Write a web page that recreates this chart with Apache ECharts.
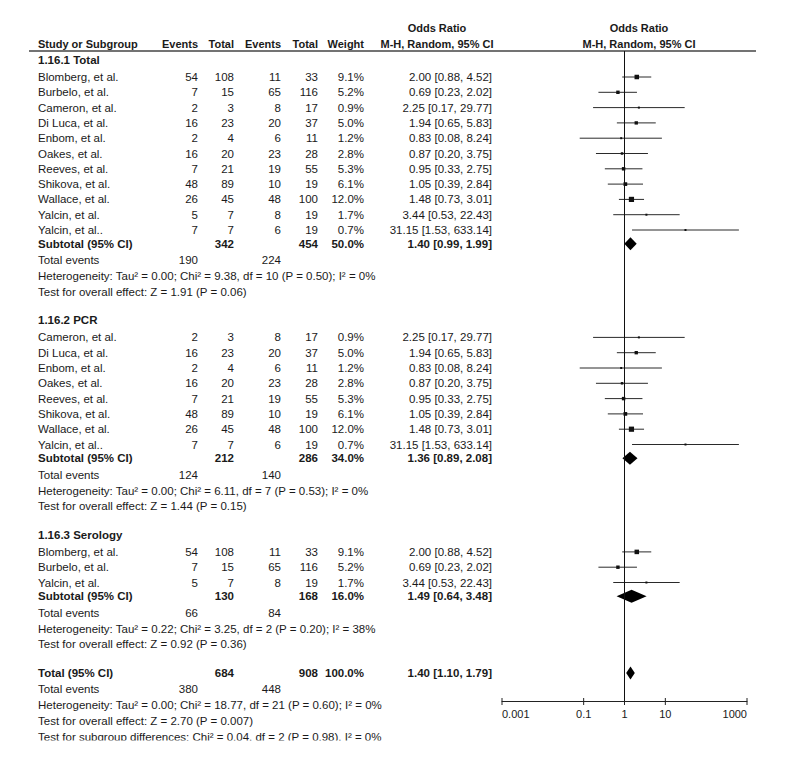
<!DOCTYPE html>
<html><head><meta charset="utf-8">
<script src="https://cdn.jsdelivr.net/npm/echarts@6/dist/echarts.min.js"></script>
<style>html,body{margin:0;padding:0;background:#fff}#chart{width:786px;height:760px}</style>
</head><body><div id="chart"></div>
<script>
const FONT = "'Liberation Sans', Arial, sans-serif";

const groupTitles = ['1.16.1 Total', '1.16.2 PCR', '1.16.3 Serology'];

// 1.16.1 Total
const g1Studies = ['Blomberg, et al.', 'Burbelo, et al.', 'Cameron, et al.', 'Di Luca, et al.', 'Enbom, et al.', 'Oakes, et al.', 'Reeves, et al.', 'Shikova, et al.', 'Wallace, et al.', 'Yalcin, et al.', 'Yalcin, et al..'];
const g1ExpEvents = [54, 7, 2, 16, 2, 16, 7, 48, 26, 5, 7];
const g1ExpTotal = [108, 15, 3, 23, 4, 20, 21, 89, 45, 7, 7];
const g1CtlEvents = [11, 65, 8, 20, 6, 23, 19, 10, 48, 8, 6];
const g1CtlTotal = [33, 116, 17, 37, 11, 28, 55, 19, 100, 19, 19];
const g1Weight = [9.1, 5.2, 0.9, 5.0, 1.2, 2.8, 5.3, 6.1, 12.0, 1.7, 0.7];
const g1OR = [2.00, 0.69, 2.25, 1.94, 0.83, 0.87, 0.95, 1.05, 1.48, 3.44, 31.15];
const g1Low = [0.88, 0.23, 0.17, 0.65, 0.08, 0.20, 0.33, 0.39, 0.73, 0.53, 1.53];
const g1High = [4.52, 2.02, 29.77, 5.83, 8.24, 3.75, 2.75, 2.84, 3.01, 22.43, 633.14];

// 1.16.2 PCR
const g2Studies = ['Cameron, et al.', 'Di Luca, et al.', 'Enbom, et al.', 'Oakes, et al.', 'Reeves, et al.', 'Shikova, et al.', 'Wallace, et al.', 'Yalcin, et al..'];
const g2ExpEvents = [2, 16, 2, 16, 7, 48, 26, 7];
const g2ExpTotal = [3, 23, 4, 20, 21, 89, 45, 7];
const g2CtlEvents = [8, 20, 6, 23, 19, 10, 48, 6];
const g2CtlTotal = [17, 37, 11, 28, 55, 19, 100, 19];
const g2Weight = [0.9, 5.0, 1.2, 2.8, 5.3, 6.1, 12.0, 0.7];
const g2OR = [2.25, 1.94, 0.83, 0.87, 0.95, 1.05, 1.48, 31.15];
const g2Low = [0.17, 0.65, 0.08, 0.20, 0.33, 0.39, 0.73, 1.53];
const g2High = [29.77, 5.83, 8.24, 3.75, 2.75, 2.84, 3.01, 633.14];

// 1.16.3 Serology
const g3Studies = ['Blomberg, et al.', 'Burbelo, et al.', 'Yalcin, et al.'];
const g3ExpEvents = [54, 7, 5];
const g3ExpTotal = [108, 15, 7];
const g3CtlEvents = [11, 65, 8];
const g3CtlTotal = [33, 116, 19];
const g3Weight = [9.1, 5.2, 1.7];
const g3OR = [2.00, 0.69, 3.44];
const g3Low = [0.88, 0.23, 0.53];
const g3High = [4.52, 2.02, 22.43];

// Subtotals per subgroup
const subExpTotal = [342, 212, 130];
const subCtlTotal = [454, 286, 168];
const subWeight = ['50.0%', '34.0%', '16.0%'];
const subOR = [1.40, 1.36, 1.49];
const subLow = [0.99, 0.89, 0.64];
const subHigh = [1.99, 2.08, 3.48];
const subExpEvents = [190, 124, 66];
const subCtlEvents = [224, 140, 84];
const subHeterogeneity = [
  'Heterogeneity: Tau² = 0.00; Chi² = 9.38, df = 10 (P = 0.50); I² = 0%',
  'Heterogeneity: Tau² = 0.00; Chi² = 6.11, df = 7 (P = 0.53); I² = 0%',
  'Heterogeneity: Tau² = 0.22; Chi² = 3.25, df = 2 (P = 0.20); I² = 38%'
];
const subEffect = [
  'Test for overall effect: Z = 1.91 (P = 0.06)',
  'Test for overall effect: Z = 1.44 (P = 0.15)',
  'Test for overall effect: Z = 0.92 (P = 0.36)'
];

// Overall
const totalExpTotal = 684;
const totalCtlTotal = 908;
const totalWeight = '100.0%';
const totalOR = 1.40;
const totalLow = 1.10;
const totalHigh = 1.79;
const totalExpEvents = 380;
const totalCtlEvents = 448;
const totalNotes = [
  'Heterogeneity: Tau² = 0.00; Chi² = 18.77, df = 21 (P = 0.60); I² = 0%',
  'Test for overall effect: Z = 2.70 (P = 0.007)',
  'Test for subgroup differences: Chi² = 0.04, df = 2 (P = 0.98), I² = 0%'
];

// Axis ticks
const tickValues = [0.001, 0.1, 1, 10, 1000];
const tickLabels = ['0.001', '0.1', '1', '10', '1000'];

// ---------- build rows ----------
const groups = [
  {studies: g1Studies, e1: g1ExpEvents, t1: g1ExpTotal, e2: g1CtlEvents, t2: g1CtlTotal, w: g1Weight, or: g1OR, lo: g1Low, hi: g1High},
  {studies: g2Studies, e1: g2ExpEvents, t1: g2ExpTotal, e2: g2CtlEvents, t2: g2CtlTotal, w: g2Weight, or: g2OR, lo: g2Low, hi: g2High},
  {studies: g3Studies, e1: g3ExpEvents, t1: g3ExpTotal, e2: g3CtlEvents, t2: g3CtlTotal, w: g3Weight, or: g3OR, lo: g3Low, hi: g3High}
];
const rows = [];
const push = (kind, o) => rows.push(Object.assign({kind}, o));
groups.forEach((g, gi) => {
  push('group', {label: groupTitles[gi]});
  g.studies.forEach((name, i) => push('study', {label: name, c1: g.e1[i], c2: g.t1[i], c3: g.e2[i], c4: g.t2[i], w: g.w[i], wText: g.w[i].toFixed(1) + '%', or: g.or[i], lo: g.lo[i], hi: g.hi[i]}));
  push('subtotal', {label: 'Subtotal (95% CI)', c2: subExpTotal[gi], c4: subCtlTotal[gi], wText: subWeight[gi], or: subOR[gi], lo: subLow[gi], hi: subHigh[gi]});
  push('events', {label: 'Total events', c1: subExpEvents[gi], c3: subCtlEvents[gi]});
  push('note', {label: subHeterogeneity[gi]});
  push('note', {label: subEffect[gi]});
});
push('subtotal', {label: 'Total (95% CI)', c2: totalExpTotal, c4: totalCtlTotal, wText: totalWeight, or: totalOR, lo: totalLow, hi: totalHigh});
push('events', {label: 'Total events', c1: totalExpEvents, c3: totalCtlEvents});
totalNotes.forEach(t => push('note', {label: t}));

// vertical layout (pixels from grid top)
const GAP = {'group>study': 17, 'study>study': 15.3, 'study>subtotal': 13.7, 'subtotal>events': 16.5,
  'events>note': 16, 'note>note': 15.7, 'note>group': 28.5, 'note>subtotal': 28.5};
let yy = 9;
rows.forEach((r, i) => {
  if (i > 0) yy += GAP[rows[i - 1].kind + '>' + r.kind] || 15.3;
  r.y = yy;
});
const Y_MAX = 650;

const fmt = v => v.toFixed(2);
const COL = {name: 38, c1: 198, c2: 234, c3: 281, c4: 318, w: 364, or: 492};
const TXT = '#1a1a1a';
const BODY_SIZE = 11.5;

function textEl(x, y, text, align, bold) {
  return {type: 'text', style: {x, y, text: String(text), font: (bold ? 'bold ' : '') + BODY_SIZE + 'px ' + FONT,
    fill: TXT, align, textAlign: align, verticalAlign: 'middle', textVerticalAlign: 'middle'}};
}

function renderText(params, api) {
  const r = rows[params.dataIndex];
  const y = api.coord([1, api.value(1)])[1];
  const bold = r.kind === 'group' || r.kind === 'subtotal';
  const ch = [textEl(COL.name, y, r.label, 'left', bold)];
  if (r.c1 != null) ch.push(textEl(COL.c1, y, r.c1, 'right', bold));
  if (r.c2 != null) ch.push(textEl(COL.c2, y, r.c2, 'right', bold));
  if (r.c3 != null) ch.push(textEl(COL.c3, y, r.c3, 'right', bold));
  if (r.c4 != null) ch.push(textEl(COL.c4, y, r.c4, 'right', bold));
  if (r.wText != null) ch.push(textEl(COL.w, y, r.wText, 'right', bold));
  if (r.or != null) ch.push(textEl(COL.or, y, fmt(r.or) + ' [' + fmt(r.lo) + ', ' + fmt(r.hi) + ']', 'right', bold));
  return {type: 'group', children: ch};
}

const markRows = rows.filter(r => r.kind === 'study' || r.kind === 'subtotal');
function renderMark(params, api) {
  const r = markRows[params.dataIndex];
  const y = api.value(1);
  const c = api.coord([api.value(0), y]);
  const pl = api.coord([api.value(2), y]);
  const ph = api.coord([api.value(3), y]);
  if (r.kind === 'study') {
    const s = Math.max(2, 1.5 * Math.sqrt(r.w));
    return {type: 'group', children: [
      {type: 'line', shape: {x1: pl[0], y1: pl[1], x2: ph[0], y2: ph[1]}, style: {stroke: '#2a2a2a', lineWidth: 1}},
      {type: 'rect', shape: {x: c[0] - s / 2, y: c[1] - s / 2, width: s, height: s}, style: {fill: '#111'}}
    ]};
  }
  const h = 6.5;
  return {type: 'polygon', shape: {points: [[pl[0], c[1]], [c[0], c[1] - h], [ph[0], c[1]], [c[0], c[1] + h]]}, style: {fill: '#000'}};
}

function renderTick(params, api) {
  const p = api.coord([api.value(0), Y_MAX]);
  return {type: 'line', shape: {x1: p[0], y1: p[1] - 3, x2: p[0], y2: p[1] + 4}, style: {stroke: '#222', lineWidth: 1}};
}

const chart = echarts.init(document.getElementById('chart'), null, {renderer: 'svg'});
const hdr = (x, y, text, align) => ({type: 'text', x, y, style: {text, font: 'bold 11px ' + FONT, fill: TXT, align, textAlign: align, verticalAlign: 'middle', textVerticalAlign: 'middle'}});
chart.setOption({
  animation: false,
  backgroundColor: '#fff',
  grid: {left: 502, right: 39, top: 51, height: 650},
  xAxis: {
    type: 'log', logBase: 10, min: 0.001, max: 1000, interval: 1, position: 'bottom',
    axisLine: {show: true, onZero: false, lineStyle: {color: '#222', width: 1}},
    axisTick: {show: false},
    splitLine: {show: false},
    axisLabel: {
      margin: 7, color: TXT, fontSize: 11, fontFamily: FONT,
      alignMinLabel: 'left', alignMaxLabel: 'right', showMinLabel: true, showMaxLabel: true,
      formatter: v => {
        const i = tickValues.findIndex(t => Math.abs(Math.log10(t) - Math.log10(v)) < 1e-6);
        return i >= 0 ? tickLabels[i] : '';
      }
    }
  },
  yAxis: {type: 'value', min: 0, max: Y_MAX, inverse: true, show: false},
  graphic: [
    hdr(437, 28, 'Odds Ratio', 'center'),
    hdr(639, 28, 'Odds Ratio', 'center'),
    hdr(38, 44, 'Study or Subgroup', 'left'),
    hdr(198, 44, 'Events', 'right'),
    hdr(234, 44, 'Total', 'right'),
    hdr(281, 44, 'Events', 'right'),
    hdr(318, 44, 'Total', 'right'),
    hdr(364, 44, 'Weight', 'right'),
    hdr(437, 44, 'M-H, Random, 95% CI', 'center'),
    hdr(639, 44, 'M-H, Random, 95% CI', 'center'),
    {type: 'line', shape: {x1: 29, y1: 51, x2: 756, y2: 51}, style: {stroke: '#444', lineWidth: 1.5}},
    {type: 'rect', z: 100, shape: {x: 0, y: 740.5, width: 786, height: 20}, style: {fill: '#fff'}}
  ],
  series: [
    {type: 'custom', name: 'table', renderItem: renderText, data: rows.map(r => [1, r.y]), clip: false, silent: true},
    {type: 'custom', name: 'forest', renderItem: renderMark, data: markRows.map(r => [r.or, r.y, r.lo, r.hi]), clip: false, silent: true,
      markLine: {silent: true, symbol: ['none', 'none'], label: {show: false}, lineStyle: {color: '#111', width: 1, type: 'solid'}, data: [{xAxis: 1}]}},
    {type: 'custom', name: 'ticks', renderItem: renderTick, data: tickValues.map(v => [v]), clip: false, silent: true}
  ]
});
</script></body></html>
